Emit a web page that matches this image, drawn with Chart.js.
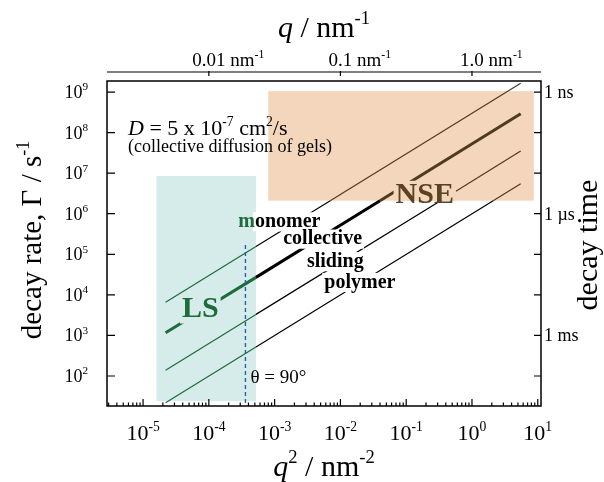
<!DOCTYPE html>
<html>
<head>
<meta charset="utf-8">
<script src="https://cdn.jsdelivr.net/npm/chart.js@4.4.0/dist/chart.umd.min.js"></script>
<style>
  html, body { margin: 0; padding: 0; background: #fff; }
  canvas { display: block; }
</style>
</head>
<body>
<canvas id="chart" width="604" height="482"></canvas>
<script>
// axis ranges: q^2 in nm^-2, decay rate in s^-1
const X_MIN = 2.83e-6, X_MAX = 11.2;
const Y_MIN = 18.2, Y_MAX = 1.87e9;

const X_TICKS = [1e-5, 1e-4, 1e-3, 1e-2, 1e-1, 1, 10];
const X_TICK_EXP = ['-5', '-4', '-3', '-2', '-1', '0', '1'];
const Y_TICKS = [1e2, 1e3, 1e4, 1e5, 1e6, 1e7, 1e8, 1e9];
const Y_TICK_EXP = ['2', '3', '4', '5', '6', '7', '8', '9'];
const Q_TICKS = [0.01, 0.1, 1.0];
const Q_TICK_LABELS = ['0.01', '0.1', '1.0'];
const TAU_TICKS = [1e-9, 1e-6, 1e-3];
const TAU_TICK_LABELS = ['1 ns', '1 \u00b5s', '1 ms'];

// diffusion lines, points: start, end of LS window, entry into NSE window, end
const monomerQ2 = [2.2e-5, 5.2e-4, 7.0e-3, 5.5];
const monomerRate = [6.6e3, 1.56e5, 2.1e6, 1.65e9];
const collectiveQ2 = [2.2e-5, 5.2e-4, 4.0e-2, 5.5];
const collectiveRate = [1.16e3, 2.7e4, 2.1e6, 2.9e8];
const slidingQ2 = [2.2e-5, 5.2e-4, 3.33e-1, 5.5];
const slidingRate = [139, 3.3e3, 2.1e6, 3.5e7];
const polymerQ2 = [2.2e-5, 5.2e-4, 2.1, 5.5];
const polymerRate = [22, 520, 2.1e6, 5.5e6];

// scattering angle 90 deg for light scattering
const thetaQ2 = [3.6e-4, 3.6e-4];
const thetaRate = [1.7e5, 18.2];

// measurement windows
const lsQ2 = [1.6e-5, 5.2e-4];
const lsRate = [24, 8.5e6];
const nseQ2 = [8.0e-4, 8.7];
const nseRate = [2.1e6, 1.05e9];

const SERIF = '"Liberation Serif", "Times New Roman", serif';
const GREEN = '#1f6b3b';
const BROWN = '#5a4324';
const LINE_BROWN = '#4e3b20';
const BLUE = '#2a5cb0';
const TEAL = '#d5ecea';
const PEACH = '#f3d6bb';
const SEG_COLORS = [GREEN, '#000', LINE_BROWN];

function partFont(p, o) {
    const size = p.sup ? o.size * 0.62 : o.size;
    const style = p.style !== undefined ? p.style : (o.style || '');
    return (style ? style + ' ' : '') + size + 'px ' + SERIF;
}

// draws text made of runs, some of them superscript
function drawParts(ctx, x, y, parts, o) {
    const widths = parts.map(p => { ctx.font = partFont(p, o); return ctx.measureText(p.t).width; });
    const total = widths.reduce((a, b) => a + b, 0);
    let start = o.align === 'center' ? x - total / 2 : o.align === 'right' ? x - total : x;
    ctx.textAlign = 'left';
    ctx.textBaseline = 'alphabetic';
    // backgrounds first, so they never hide a neighbouring run
    let cx = start;
    parts.forEach((p, i) => {
        const bg = p.bg !== undefined ? p.bg : o.bg;
        if (bg) {
            const top = y - o.size * 0.74;
            const bot = Math.min(y + o.size * 0.22, o.bgMaxY !== undefined ? o.bgMaxY : Infinity);
            ctx.fillStyle = bg;
            ctx.fillRect(cx - 2, top, widths[i] + 4, bot - top);
        }
        cx += widths[i];
    });
    cx = start;
    parts.forEach((p, i) => {
        ctx.font = partFont(p, o);
        ctx.fillStyle = p.color || o.color || '#000';
        ctx.fillText(p.t, cx, y + (p.sup ? -o.size * 0.42 : 0));
        cx += widths[i];
    });
}

function lineSet(q2, rate, width) {
    return {
        data: q2.map((x, i) => ({ x, y: rate[i] })),
        borderWidth: width,
        borderColor: '#000',
        pointRadius: 0,
        tension: 0,
        segment: { borderColor: c => SEG_COLORS[c.p0DataIndex] }
    };
}

const windowsPlugin = {
    id: 'windows',
    beforeDatasetsDraw(chart) {
        const { ctx, scales: { x, y } } = chart;
        ctx.save();
        ctx.fillStyle = TEAL;
        ctx.fillRect(x.getPixelForValue(lsQ2[0]), y.getPixelForValue(lsRate[1]),
            x.getPixelForValue(lsQ2[1]) - x.getPixelForValue(lsQ2[0]),
            y.getPixelForValue(lsRate[0]) - y.getPixelForValue(lsRate[1]));
        ctx.fillStyle = PEACH;
        ctx.fillRect(x.getPixelForValue(nseQ2[0]), y.getPixelForValue(nseRate[1]),
            x.getPixelForValue(nseQ2[1]) - x.getPixelForValue(nseQ2[0]),
            y.getPixelForValue(nseRate[0]) - y.getPixelForValue(nseRate[1]));
        ctx.restore();
    }
};

const labelsPlugin = {
    id: 'labels',
    afterDatasetsDraw(chart) {
        const { ctx, scales: { x, y } } = chart;
        const at = (q2, rate) => [x.getPixelForValue(q2), y.getPixelForValue(rate)];
        ctx.save();
        let p = at(5.9e-6, 8.7e7);
        drawParts(ctx, p[0], p[1], [
            { t: 'D', style: 'italic' }, { t: ' = 5 x 10' }, { t: '-7', sup: true },
            { t: ' cm' }, { t: '2', sup: true }, { t: '/s' }
        ], { size: 22 });
        p = at(5.9e-6, 3.3e7);
        drawParts(ctx, p[0], p[1], [{ t: '(collective diffusion of gels)' }], { size: 18 });

        const bold = { size: 20, style: 'bold' };
        p = at(2.8e-4, 4.7e5);
        drawParts(ctx, p[0], p[1], [{ t: 'm', color: GREEN }, { t: 'onomer', bg: '#fff' }], bold);
        p = at(1.35e-3, 1.76e5);
        drawParts(ctx, p[0], p[1], [{ t: 'collective' }], Object.assign({ bg: '#fff' }, bold));
        p = at(3.1e-3, 4.9e4);
        drawParts(ctx, p[0], p[1], [{ t: 'sliding' }], Object.assign({ bg: '#fff' }, bold));
        p = at(5.7e-3, 1.5e4);
        drawParts(ctx, p[0], p[1], [{ t: 'polymer' }], Object.assign({ bg: '#fff' }, bold));

        p = at(3.9e-5, 2.85e3);
        drawParts(ctx, p[0], p[1], [{ t: 'LS' }], { size: 30, style: 'bold', color: GREEN, bg: TEAL });
        p = at(6.9e-2, 1.84e6);
        drawParts(ctx, p[0], p[1], [{ t: 'NSE' }],
            { size: 30, style: 'bold', color: BROWN, bg: PEACH, bgMaxY: y.getPixelForValue(nseRate[0]) });

        p = at(4.3e-4, 67);
        drawParts(ctx, p[0], p[1], [{ t: '\u03b8 = 90\u00b0' }], { size: 19 });
        ctx.restore();
    }
};

const axesPlugin = {
    id: 'axes',
    afterDraw(chart) {
        const { ctx, chartArea: a, scales: { x, y, x2, y2 } } = chart;
        ctx.save();
        ctx.strokeStyle = '#000';
        ctx.lineWidth = 1.5;
        ctx.strokeRect(a.left, a.top, a.right - a.left, a.bottom - a.top);

        ctx.lineWidth = 1.2;
        ctx.beginPath();
        Y_TICKS.forEach(v => {
            const py = y.getPixelForValue(v);
            ctx.moveTo(a.left, py); ctx.lineTo(a.left + 8, py);
            ctx.moveTo(a.right, py); ctx.lineTo(a.right - 7, py);
        });
        X_TICKS.forEach(v => {
            const px = x.getPixelForValue(v);
            ctx.moveTo(px, a.bottom); ctx.lineTo(px, a.bottom - 7);
        });
        for (let e = -6; e <= 1; e++) {
            for (let m = 2; m <= 9; m++) {
                const v = m * Math.pow(10, e);
                if (v < X_MIN || v > X_MAX) continue;
                const px = x.getPixelForValue(v);
                ctx.moveTo(px, a.bottom); ctx.lineTo(px, a.bottom - 3.5);
            }
        }
        // separate q axis above the frame
        const qy = a.top - 9;
        ctx.moveTo(x2.left, qy); ctx.lineTo(x2.right, qy);
        Q_TICKS.forEach(v => {
            const px = x2.getPixelForValue(v);
            ctx.moveTo(px, qy - 1); ctx.lineTo(px, qy + 4);
        });
        ctx.stroke();

        // tick labels
        Y_TICKS.forEach((v, i) => {
            drawParts(ctx, a.left - 19, y.getPixelForValue(v) + 6,
                [{ t: '10' }, { t: Y_TICK_EXP[i], sup: true }], { size: 18, align: 'right' });
        });
        X_TICKS.forEach((v, i) => {
            drawParts(ctx, x.getPixelForValue(v), a.bottom + 34,
                [{ t: '10' }, { t: X_TICK_EXP[i], sup: true }], { size: 22, align: 'center' });
        });
        Q_TICKS.forEach((v, i) => {
            ctx.font = '19px ' + SERIF;
            const w = ctx.measureText(Q_TICK_LABELS[i]).width;
            drawParts(ctx, x2.getPixelForValue(v) - w / 2, a.top - 15,
                [{ t: Q_TICK_LABELS[i] }, { t: ' nm' }, { t: '-1', sup: true }], { size: 19 });
        });
        TAU_TICKS.forEach((v, i) => {
            drawParts(ctx, a.right + 3, y2.getPixelForValue(v) + 6, [{ t: TAU_TICK_LABELS[i] }], { size: 18 });
        });

        // axis titles
        const cx = (a.left + a.right) / 2;
        drawParts(ctx, cx, 37, [{ t: 'q', style: 'italic' }, { t: ' / nm' }, { t: '-1', sup: true }],
            { size: 30, align: 'center' });
        drawParts(ctx, cx, 476, [{ t: 'q', style: 'italic' }, { t: '2', sup: true }, { t: ' / nm' }, { t: '-2', sup: true }],
            { size: 30, align: 'center' });
        ctx.save();
        ctx.translate(41, 240);
        ctx.rotate(-Math.PI / 2);
        drawParts(ctx, 0, 0, [{ t: 'decay rate, \u0393 / s' }, { t: '-1', sup: true }], { size: 29, align: 'center' });
        ctx.restore();
        ctx.save();
        ctx.translate(597, 245);
        ctx.rotate(-Math.PI / 2);
        drawParts(ctx, 0, 0, [{ t: 'decay time' }], { size: 30, align: 'center' });
        ctx.restore();
        ctx.restore();
    }
};

new Chart(document.getElementById('chart'), {
    type: 'line',
    data: {
        datasets: [
            {
                data: thetaQ2.map((v, i) => ({ x: v, y: thetaRate[i] })),
                borderColor: BLUE, borderWidth: 1.4, borderDash: [4, 3], pointRadius: 0
            },
            lineSet(monomerQ2, monomerRate, 1.2),
            lineSet(collectiveQ2, collectiveRate, 3),
            lineSet(slidingQ2, slidingRate, 1.2),
            lineSet(polymerQ2, polymerRate, 1.2)
        ]
    },
    options: {
        responsive: false,
        animation: false,
        layout: { padding: { left: 107, right: 63, top: 81, bottom: 76 } },
        plugins: { legend: { display: false }, tooltip: { enabled: false } },
        scales: {
            x: { type: 'logarithmic', position: 'bottom', min: X_MIN, max: X_MAX, display: false },
            y: { type: 'logarithmic', position: 'left', min: Y_MIN, max: Y_MAX, display: false },
            x2: { type: 'logarithmic', position: 'top', min: Math.sqrt(X_MIN), max: Math.sqrt(X_MAX), display: false },
            y2: { type: 'logarithmic', position: 'right', min: 1 / Y_MAX, max: 1 / Y_MIN, reverse: true, display: false }
        }
    },
    plugins: [windowsPlugin, labelsPlugin, axesPlugin]
});
</script>
</body>
</html>
